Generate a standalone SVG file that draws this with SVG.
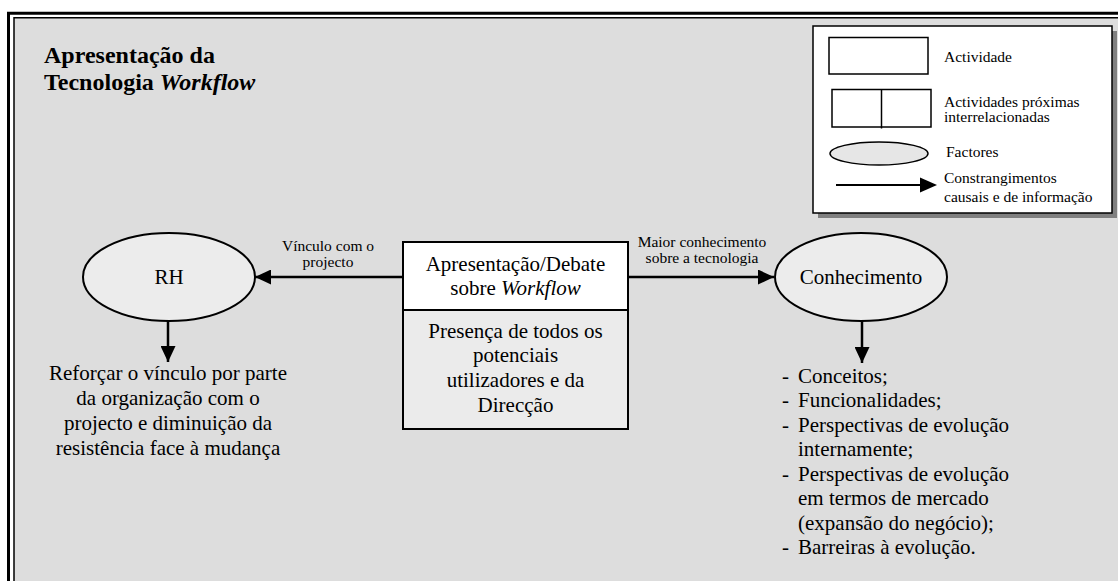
<svg xmlns="http://www.w3.org/2000/svg" width="1118" height="581" viewBox="0 0 1118 581">
  <style>
    .t { font-family: "Liberation Serif", "Times New Roman", serif; fill: #000; }
    .title { font-size: 24px; font-weight: bold; }
    .body { font-size: 21px; }
    .small { font-size: 15.5px; }
    .mid { text-anchor: middle; }
    .frame { fill: none; stroke: #000; }
    .node { stroke: #000; stroke-width: 2; }
    .edge { stroke: #000; stroke-width: 2.5; fill: none; marker-end: url(#head); }
  </style>
  <defs>
    <marker id="head" markerWidth="16" markerHeight="15" refX="16" refY="7.5" orient="auto" markerUnits="userSpaceOnUse">
      <path d="M0,0 L16,7.5 L0,15 z" fill="#000"/>
    </marker>
  </defs>

  <!-- page background and double frame -->
  <rect x="0" y="0" width="1118" height="581" fill="#ffffff"/>
  <rect x="14" y="17.75" width="1120" height="600" fill="#dddddd"/>
  <rect class="frame" x="8.5" y="13.25" width="1130" height="600" stroke-width="3"/>
  <rect class="frame" x="14" y="17.75" width="1120" height="600" stroke-width="1.5"/>

  <!-- heading -->
  <g id="heading">
    <text class="t title" x="44" y="63">Apresentação da</text>
    <text class="t title" x="44" y="90">Tecnologia <tspan font-style="italic">Workflow</tspan></text>
  </g>

  <!-- key -->
  <g id="legend">
    <rect x="818" y="31" width="299" height="187" fill="#808080"/>
    <rect x="813" y="26" width="299" height="187" fill="#ffffff" stroke="#000" stroke-width="1.5"/>
    <rect x="829" y="37.5" width="99" height="36.5" fill="#ffffff" stroke="#000" stroke-width="1.5"/>
    <text class="t small" x="944" y="62">Actividade</text>
    <rect x="832" y="89.5" width="99" height="37.5" fill="#ffffff" stroke="#000" stroke-width="1.5"/>
    <line x1="881.5" y1="89.5" x2="881.5" y2="128.5" stroke="#000" stroke-width="1.5"/>
    <text class="t small" x="944" y="107">Actividades próximas</text>
    <text class="t small" x="944" y="122">interrelacionadas</text>
    <ellipse cx="879" cy="153.5" rx="49" ry="11.5" fill="#e6e6e6" stroke="#000" stroke-width="1.5"/>
    <text class="t small" x="946" y="157">Factores</text>
    <line x1="836" y1="185" x2="921" y2="185" stroke="#000" stroke-width="2"/>
    <path d="M920,177.5 L937,185 L920,192.5 z" fill="#000"/>
    <text class="t small" x="944" y="183">Constrangimentos</text>
    <text class="t small" x="944" y="202">causais e de informação</text>
  </g>

  <!-- connectors -->
  <g id="connectors">
    <line class="edge" x1="403" y1="277" x2="255" y2="277"/>
    <line class="edge" x1="628" y1="277" x2="774" y2="277"/>
    <line class="edge" x1="168" y1="321" x2="168" y2="362"/>
    <line class="edge" x1="862" y1="321" x2="862" y2="363"/>
    <text class="t small mid" x="328" y="251">Vínculo com o</text>
    <text class="t small mid" x="328" y="267">projecto</text>
    <text class="t small mid" x="702" y="247">Maior conhecimento</text>
    <text class="t small mid" x="702" y="263">sobre a tecnologia</text>
  </g>

  <!-- activity: presentation / debate -->
  <g id="apresentacao">
    <rect class="node" x="403" y="242" width="225" height="68" fill="#ffffff"/>
    <rect class="node" x="403" y="310" width="225" height="119" fill="#ebebeb"/>
    <text class="t body mid" x="515.5" y="271">Apresentação/Debate</text>
    <text class="t body mid" x="515.5" y="295">sobre <tspan font-style="italic">Workflow</tspan></text>
    <text class="t body mid" x="515.5" y="338">Presença de todos os</text>
    <text class="t body mid" x="515.5" y="362">potenciais</text>
    <text class="t body mid" x="515.5" y="387">utilizadores e da</text>
    <text class="t body mid" x="515.5" y="412">Direcção</text>
  </g>

  <!-- factor: RH -->
  <g id="rh">
    <ellipse class="node" cx="169" cy="277" rx="86" ry="44" fill="#ececec"/>
    <text class="t body mid" x="169" y="284">RH</text>
  </g>

  <!-- outcome of RH -->
  <g id="rh-resultado">
    <text class="t body mid" x="168" y="380">Reforçar o vínculo por parte</text>
    <text class="t body mid" x="168" y="405">da organização com o</text>
    <text class="t body mid" x="168" y="430">projecto e diminuição da</text>
    <text class="t body mid" x="168" y="455">resistência face à mudança</text>
  </g>

  <!-- factor: Conhecimento -->
  <g id="conhecimento">
    <ellipse class="node" cx="861" cy="277" rx="86" ry="44" fill="#ececec"/>
    <text class="t body mid" x="861" y="284">Conhecimento</text>
  </g>

  <!-- outcome of Conhecimento -->
  <g id="conhecimento-lista">
    <text class="t body" x="782" y="383">-</text>
    <text class="t body" x="798" y="383">Conceitos;</text>
    <text class="t body" x="782" y="407">-</text>
    <text class="t body" x="798" y="407">Funcionalidades;</text>
    <text class="t body" x="782" y="432">-</text>
    <text class="t body" x="798" y="432">Perspectivas de evolução</text>
    <text class="t body" x="798" y="456">internamente;</text>
    <text class="t body" x="782" y="481">-</text>
    <text class="t body" x="798" y="481">Perspectivas de evolução</text>
    <text class="t body" x="798" y="505">em termos de mercado</text>
    <text class="t body" x="798" y="530">(expansão do negócio);</text>
    <text class="t body" x="782" y="554">-</text>
    <text class="t body" x="798" y="554">Barreiras à evolução.</text>
  </g>
</svg>
